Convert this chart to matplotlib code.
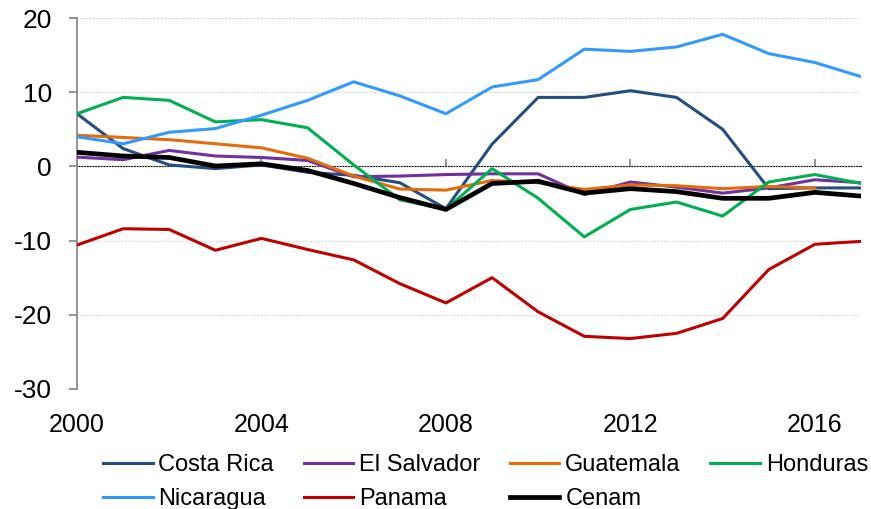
import matplotlib
matplotlib.use("Agg")
import matplotlib.pyplot as plt
import numpy as np

plt.rcParams['font.family'] = ['Liberation Sans', 'DejaVu Sans']
plt.rcParams['axes.unicode_minus'] = False

years = list(range(2000, 2018))
costa_rica = [7.1, 2.4, 0.2, -0.3, 0.2, -0.8, -1.2, -2.2, -5.7, 3.0, 9.3, 9.3, 10.2, 9.3, 5.0, -3.0, -2.9, -2.9]
el_salvador = [1.25, 0.9, 2.15, 1.4, 1.2, 0.8, -1.4, -1.3, -1.1, -1.0, -1.0, -3.8, -2.1, -2.8, -3.6, -2.9, -1.8, -2.2]
guatemala = [4.2, 3.9, 3.6, 3.05, 2.5, 1.1, -1.3, -3.05, -3.2, -1.9, -2.2, -3.1, -2.5, -2.6, -3.0, -2.7, -2.9, np.nan]
honduras = [7.1, 9.3, 8.9, 6.0, 6.3, 5.2, 0.2, -4.5, -5.8, -0.3, -4.3, -9.5, -5.8, -4.8, -6.7, -2.1, -1.1, -2.3]
nicaragua = [4.0, 3.05, 4.6, 5.1, 6.9, 8.9, 11.4, 9.5, 7.1, 10.7, 11.7, 15.8, 15.5, 16.1, 17.8, 15.2, 14.0, 12.1]
panama = [-10.6, -8.4, -8.5, -11.3, -9.7, -11.2, -12.6, -15.8, -18.4, -15.0, -19.6, -22.9, -23.2, -22.5, -20.5, -13.9, -10.5, -10.1]
cenam = [1.9, 1.4, 1.2, 0.05, 0.35, -0.55, -2.3, -4.2, -5.8, -2.3, -2.0, -3.6, -3.0, -3.4, -4.3, -4.3, -3.5, -4.0]

names = ["Costa Rica", "El Salvador", "Guatemala", "Honduras", "Nicaragua", "Panama", "Cenam"]
series = [costa_rica, el_salvador, guatemala, honduras, nicaragua, panama, cenam]
colors = ["#254E7F", "#7030A0", "#E46C0A", "#00B050", "#3399FF", "#C00000", "#000000"]
widths = [2.2, 2.2, 2.2, 2.2, 2.2, 2.2, 3.4]

fig = plt.figure(figsize=(8.71, 5.09), dpi=100)
ax = fig.add_axes([77/871, 1-389/509, (861-77)/871, (389-18)/509])

axis_grey = "#8C8C8C"
for i in range(len(names)):
    ax.plot(years, series[i], color=colors[i], lw=widths[i], label=names[i], zorder=3+i)

ax.set_xlim(2000, 2017)
ax.set_ylim(-30, 20)
ax.set_yticks([-30, -20, -10, 0, 10, 20])
ax.set_xticks([2000, 2004, 2008, 2012, 2016])
ax.yaxis.grid(True, color="#C8C8C8", linestyle=(0, (1, 1.5)), lw=0.8)
ax.set_axisbelow(True)

for s in ['top', 'right', 'bottom']:
    ax.spines[s].set_visible(False)
ax.spines['left'].set_color(axis_grey)
ax.spines['left'].set_linewidth(1.3)
ax.tick_params(axis='y', length=6, width=1.3, color=axis_grey, pad=12, labelsize=19)
ax.tick_params(axis='x', length=0, pad=17, labelsize=18)

# zero line axis with tick marks
sec = ax.secondary_xaxis(0.6)
sec.set_xticks([2000, 2004, 2008, 2012, 2016])
sec.tick_params(axis='x', length=5, width=1.3, color=axis_grey, labelbottom=False, direction='out')
sec.spines['bottom'].set_color(axis_grey)
sec.spines['bottom'].set_linewidth(1.6)
sec.set_xticklabels([])

handles, labels = ax.get_legend_handles_labels()
order = [0, 4, 1, 5, 2, 6, 3]  # row-wise fill for 4 columns
fig.legend([handles[k] for k in order], [labels[k] for k in order],
           loc='upper left', bbox_to_anchor=(103/871, 1-454/509),
           ncol=4, frameon=False, fontsize=17, handlelength=2.1, handletextpad=0.25,
           columnspacing=1.25, labelspacing=0.5, borderpad=0, borderaxespad=0)

fig.savefig("out.png", dpi=100)
